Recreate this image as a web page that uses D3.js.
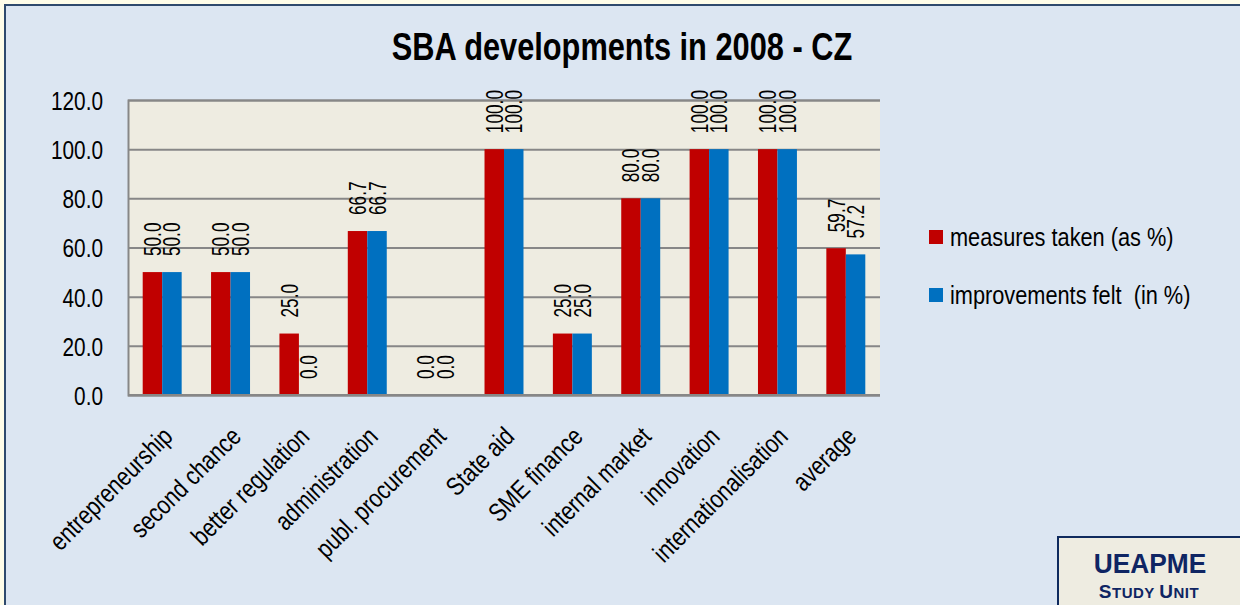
<!DOCTYPE html>
<html>
<head>
<meta charset="utf-8">
<script src="https://cdn.jsdelivr.net/npm/d3@7"></script>
<style>
  html, body { margin: 0; padding: 0; background: #FFFDE9; }
  svg { display: block; font-family: "Liberation Sans", Arial, sans-serif; }
</style>
</head>
<body>
<div class="chart"></div>
<script>
const categories = ["entrepreneurship", "second chance", "better regulation", "administration",
  "publ. procurement", "State aid", "SME finance", "internal market", "innovation",
  "internationalisation", "average"];
const measuresTaken = [50.0, 50.0, 25.0, 66.7, 0.0, 100.0, 25.0, 80.0, 100.0, 100.0, 59.7];
const improvementsFelt = [50.0, 50.0, 0.0, 66.7, 0.0, 100.0, 25.0, 80.0, 100.0, 100.0, 57.2];
const seriesNames = ["measures taken (as %)", "improvements felt  (in %)"];
const yTicks = [0, 20, 40, 60, 80, 100, 120];

const w = 1240;
const h = 605;
const colors = ["#C00000", "#0070C0"];
const plot = {left: 128, right: 880, top: 100, bottom: 395};
const narrow = 0.82; // reference uses a narrow face

const svg = d3.select('.chart')
              .append('svg')
              .attr("width", w)
              .attr("height", h);

// chart frame
svg.append("rect")
   .attr("x", 5).attr("y", 5)
   .attr("width", w + 10).attr("height", h + 10)
   .attr("fill", "#DCE6F2")
   .attr("stroke", "#2F4A6D")
   .attr("stroke-width", 2);

svg.append("text")
   .text("SBA developments in 2008 - CZ")
   .attr("transform", "translate(622,60) scale(0.81,1)")
   .attr("text-anchor", "middle")
   .attr("font-size", 38)
   .attr("font-weight", "bold")
   .attr("fill", "#000");

const xScale = d3.scaleBand()
                 .domain(categories)
                 .range([plot.left, plot.right])
                 .paddingInner(0.43)
                 .paddingOuter(0.215);

const subScale = d3.scaleBand()
                   .domain([0, 1])
                   .range([0, xScale.bandwidth()]);

const yScale = d3.scaleLinear()
                 .domain([0, 120])
                 .range([plot.bottom, plot.top]);

svg.append("rect")
   .attr("x", plot.left).attr("y", plot.top)
   .attr("width", plot.right - plot.left)
   .attr("height", plot.bottom - plot.top)
   .attr("fill", "#EEECE1");

// gridlines + y labels
const yAxis = d3.axisLeft(yScale)
                .tickValues(yTicks)
                .tickSize(-(plot.right - plot.left))
                .tickPadding(25)
                .tickFormat(d3.format(".1f"));

const gy = svg.append("g")
   .attr("transform", "translate(" + plot.left + ",0)")
   .call(yAxis);
gy.select(".domain").attr("stroke", "#878787").attr("stroke-width", 2);
gy.selectAll(".tick line").attr("stroke", "#878787").attr("stroke-width", 2);
gy.selectAll(".tick text")
  .attr("font-size", 26)
  .attr("font-family", "Liberation Sans, Arial, sans-serif")
  .attr("fill", "#000")
  .attr("x", -25 / 0.8)
  .attr("dy", "0.36em")
  .attr("transform", "scale(0.8,1)");

// bars
const rows = categories.map((c, i) => ({cat: c, vals: [measuresTaken[i], improvementsFelt[i]]}));

const groups = svg.selectAll(".grp")
   .data(rows)
   .enter()
   .append("g")
   .attr("class", "grp")
   .attr("transform", d => "translate(" + xScale(d.cat) + ",0)");

groups.selectAll("rect")
   .data(d => d.vals.map((v, k) => ({v: v, k: k})))
   .enter()
   .append("rect")
   .attr("x", d => subScale(d.k))
   .attr("y", d => yScale(d.v))
   .attr("width", subScale.bandwidth())
   .attr("height", d => yScale(0) - yScale(d.v))
   .attr("fill", d => colors[d.k]);

groups.selectAll("text")
   .data(d => d.vals.map((v, k) => ({v: v, k: k})))
   .enter()
   .append("text")
   .text(d => d.v.toFixed(1))
   .attr("transform", d => "translate(" + (subScale(d.k) + subScale.bandwidth() / 2 + 8.5) + "," + (yScale(d.v) - 16) + ") rotate(-90) scale(0.75,1)")
   .attr("font-size", 23)
   .attr("fill", "#000");

// x axis
svg.append("line")
   .attr("x1", plot.left).attr("x2", plot.right)
   .attr("y1", plot.bottom).attr("y2", plot.bottom)
   .attr("stroke", "#878787").attr("stroke-width", 2);

svg.selectAll(".xlab")
   .data(categories)
   .enter()
   .append("text")
   .attr("class", "xlab")
   .text(d => d)
   .attr("text-anchor", "end")
   .attr("font-size", 26)
   .attr("fill", "#000")
   .attr("transform", d => "translate(" + (xScale(d) + xScale.bandwidth() / 2 + 12) + "," + 438 + ") rotate(-45) scale(" + narrow + ",1)");

// legend
const legend = svg.selectAll(".leg")
   .data(seriesNames)
   .enter()
   .append("g")
   .attr("class", "leg")
   .attr("transform", (d, i) => "translate(929," + (230 + i * 58) + ")");

legend.append("rect")
   .attr("width", 14).attr("height", 14)
   .attr("fill", (d, i) => colors[i]);

legend.append("text")
   .text(d => d)
   .attr("transform", "translate(21,16) scale(0.87,1)")
   .attr("font-size", 25)
   .attr("fill", "#000")
   .style("white-space", "pre");

// study unit box
svg.append("rect")
   .attr("x", 1058).attr("y", 537)
   .attr("width", 200).attr("height", 100)
   .attr("fill", "#EEECE1")
   .attr("stroke", "#0F2A5E")
   .attr("stroke-width", 2);

svg.append("text")
   .text("UEAPME")
   .attr("transform", "translate(1150,573) scale(0.94,1)")
   .attr("text-anchor", "middle")
   .attr("font-size", 28)
   .attr("font-weight", "bold")
   .attr("fill", "#0F2563");

const su = svg.append("text")
   .attr("x", 1149).attr("y", 598)
   .attr("text-anchor", "middle")
   .attr("font-weight", "bold")
   .attr("letter-spacing", 0.5)
   .attr("fill", "#0F2563");
[["S", 19], ["TUDY ", 15], ["U", 19], ["NIT", 15]].forEach(p => {
  su.append("tspan").text(p[0]).attr("font-size", p[1]).style("white-space", "pre");
});
</script>
</body>
</html>
